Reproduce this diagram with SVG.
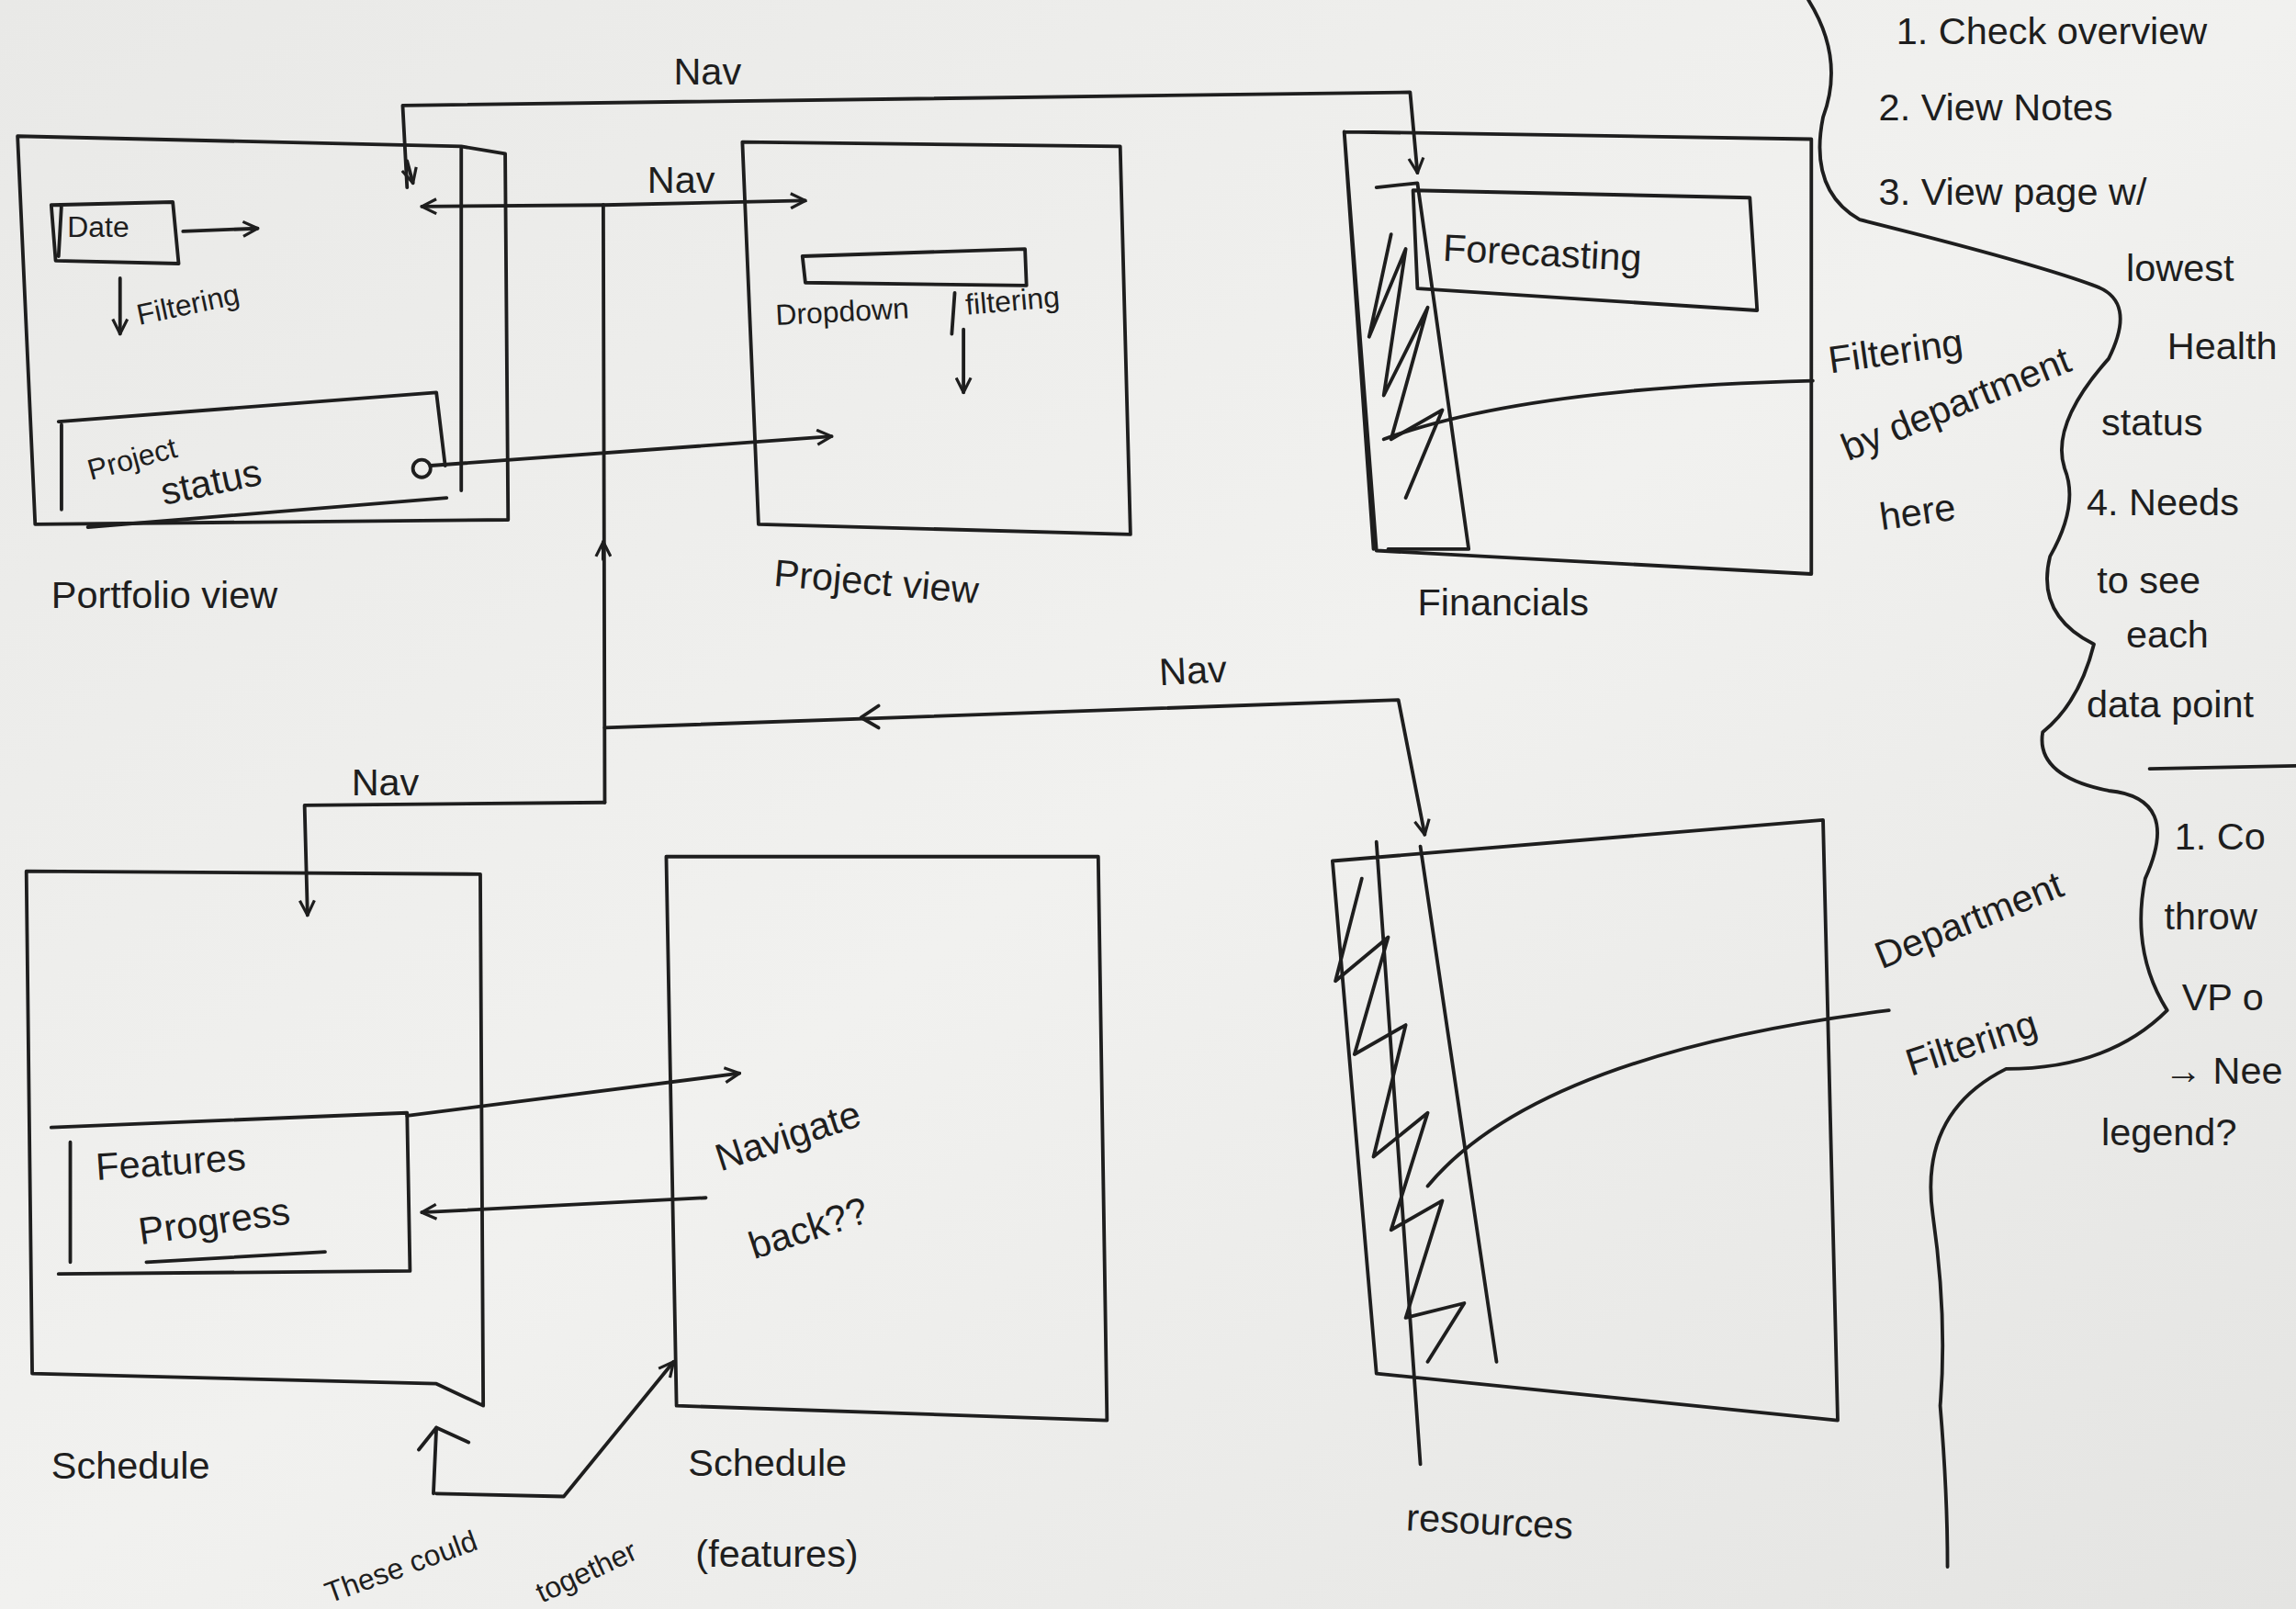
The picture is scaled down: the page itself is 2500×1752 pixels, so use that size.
<svg xmlns="http://www.w3.org/2000/svg" width="2500" height="1752" viewBox="0 0 2500 1752">
<defs>
<style>
.l{fill:none;stroke:#1e1e1e;stroke-width:2.4;stroke-linecap:round;stroke-linejoin:round}
.t{font-family:"Liberation Sans",sans-serif;fill:#1e1e1e;font-size:26px}
.s{font-size:20px}
</style>
<marker id="a" viewBox="0 0 12 12" refX="11" refY="6" markerWidth="12" markerHeight="12" markerUnits="userSpaceOnUse" orient="auto"><path d="M1,1 L11,6 L1,11" fill="none" stroke="#1e1e1e" stroke-width="2"/></marker>
<linearGradient id="bg" x1="0" y1="0" x2="1" y2="1"><stop offset="0" stop-color="#e9e9e7"/><stop offset="0.5" stop-color="#f1f1ef"/><stop offset="1" stop-color="#e4e4e2"/></linearGradient>
</defs>
<rect width="2500" height="1752" fill="url(#bg)"/>
<g transform="scale(1.5944)">
<g id="portfolio">
<path class="l" d="M12,93 L315,100 L345,105 L347,355 L24,358 Z M315,100 L315,335"/>
<path class="l" d="M35,140 L118,138 L122,180 L38,178 Z M42,140 L40,175"/>
<text class="t s" x="46" y="162">Date</text>
<path class="l" d="M125,158 L176,156" marker-end="url(#a)"/>
<path class="l" d="M82,190 L82,228" marker-end="url(#a)"/>
<text class="t s" x="95" y="222" transform="rotate(-12 95 222)">Filtering</text>
<path class="l" d="M40,288 L298,268 L304,318 M42,290 L42,348 M60,360 L305,340"/>
<text class="t s" x="62" y="328" transform="rotate(-15 62 328)">Project</text>
<text class="t" x="112" y="345" transform="rotate(-12 112 345)">status</text>
<circle cx="288" cy="320" r="6" class="l"/>
<path class="l" d="M294,318 L568,298" marker-end="url(#a)"/>
<text class="t" x="35" y="415">Portfolio  view</text>
</g>
<g id="project">
<path class="l" d="M507,97 L765,100 L772,365 L518,358 Z"/>
<path class="l" d="M548,175 L700,170 L701,195 L550,193 Z"/>
<text class="t s" x="530" y="222" transform="rotate(-3 530 222)">Dropdown</text>
<path class="l" d="M652,200 L650,228"/>
<text class="t s" x="660" y="215" transform="rotate(-5 660 215)">filtering</text>
<path class="l" d="M658,225 L658,268" marker-end="url(#a)"/>
<text class="t" x="528" y="400" transform="rotate(5 528 400)">Project view</text>
</g>
<g id="financials">
<path class="l" d="M918,90 L1237,95 L1237,392 L940,376 Z M918,90 L938,375"/>
<path class="l" d="M940,128 L968,125 L1003,375 L948,375 M950,160 L935,230 L960,170 L945,270 L975,210 L950,300 L985,280 L960,340"/>
<path class="l" d="M965,130 L1195,135 L1200,212 L968,197 Z"/>
<text class="t" x="985" y="178" transform="rotate(3 985 178)">Forecasting</text>
<path class="l" d="M945,300 Q1040,265 1238,260"/>
<text class="t" x="1250" y="255" transform="rotate(-8 1250 255)">Filtering</text>
<text class="t" x="1262" y="315" transform="rotate(-22 1262 315)">by department</text>
<text class="t" x="1285" y="362" transform="rotate(-8 1285 362)">here</text>
<text class="t" x="968" y="420">Financials</text>
</g>
<g id="schedule">
<path class="l" d="M18,595 L328,597 L330,960 L298,945 L22,938 Z"/>
<path class="l" d="M35,770 L278,760 L280,868 L40,870 M48,780 L48,862"/>
<text class="t" x="66" y="806" transform="rotate(-4 66 806)">Features</text>
<text class="t" x="96" y="850" transform="rotate(-8 96 850)">Progress</text>
<path class="l" d="M100,862 L222,855"/>
<text class="t" x="35" y="1010">Schedule</text>
</g>
<g id="schedulefeatures">
<path class="l" d="M455,585 L750,585 L756,970 L462,960 Z"/>
<text class="t" x="492" y="800" transform="rotate(-18 492 800)">Navigate</text>
<text class="t" x="515" y="860" transform="rotate(-18 515 860)">back??</text>
<text class="t" x="470" y="1008">Schedule</text>
<text class="t" x="475" y="1070">(features)</text>
<text class="t s" x="225" y="1095" transform="rotate(-20 225 1095)">These could</text>
<text class="t s" x="370" y="1095" transform="rotate(-25 370 1095)">together</text>
</g>
<g id="resources">
<path class="l" d="M910,588 L1245,560 L1255,970 L940,938 Z M940,575 L970,1000 M970,578 L1022,930"/>
<path class="l" d="M930,600 L912,670 L948,640 L925,720 L960,700 L938,790 L975,760 L950,840 L985,820 L960,900 L1000,890 L975,930"/>
<path class="l" d="M975,810 Q1050,720 1290,690"/>
<text class="t" x="1285" y="662" transform="rotate(-22 1285 662)">Department</text>
<text class="t" x="1305" y="735" transform="rotate(-18 1305 735)">Filtering</text>
<text class="t" x="960" y="1045" transform="rotate(3 960 1045)">resources</text>
</g>
<g id="connectors">
<path class="l" d="M278,128 L275,72 L963,63 L968,118" marker-end="url(#a)"/>
<path class="l" d="M278,110 L282,125" marker-end="url(#a)"/>
<text class="t" x="460" y="58">Nav</text>
<path class="l" d="M412,140 L550,137" marker-end="url(#a)"/>
<path class="l" d="M412,140 L288,141" marker-end="url(#a)"/>
<text class="t" x="442" y="132">Nav</text>
<path class="l" d="M412,140 L413,548 M412,382 L412,370" marker-end="url(#a)"/>
<path class="l" d="M413,497 L955,478 L973,570" marker-end="url(#a)"/>
<path class="l" d="M600,482 L588,490 L600,497"/>
<text class="t" x="792" y="468" transform="rotate(-3 792 468)">Nav</text>
<path class="l" d="M413,548 L208,550 L210,625" marker-end="url(#a)"/>
<text class="t" x="240" y="543">Nav</text>
<path class="l" d="M278,762 L505,733" marker-end="url(#a)"/>
<path class="l" d="M482,818 L288,828" marker-end="url(#a)"/>
<path class="l" d="M296,1020 L298,975 M298,1020 L385,1022 L460,930" marker-end="url(#a)"/>
<path class="l" d="M298,975 L286,990 M298,975 L320,985"/>
</g>
<g id="notes">
<path class="l" d="M1235,0 Q1260,40 1245,80 Q1235,130 1270,150 Q1390,180 1430,195 Q1460,205 1440,245 Q1400,290 1410,320 Q1420,345 1400,380 Q1390,420 1430,440 Q1420,480 1395,500 Q1390,530 1440,540 Q1490,545 1465,600 Q1455,650 1480,690 Q1440,730 1370,730 Q1310,760 1320,830 Q1330,900 1325,960 Q1330,1020 1330,1070"/>
<text class="t" x="1295" y="30">1. Check overview</text>
<text class="t" x="1283" y="82">2. View Notes</text>
<text class="t" x="1283" y="140">3. View page w/</text>
<text class="t" x="1452" y="192">lowest</text>
<text class="t" x="1480" y="245">Health</text>
<text class="t" x="1435" y="297">status</text>
<text class="t" x="1425" y="352">4. Needs</text>
<text class="t" x="1432" y="405">to see</text>
<text class="t" x="1452" y="442">each</text>
<text class="t" x="1425" y="490">data point</text>
<path class="l" d="M1468,525 L1568,523"/>
<text class="t" x="1485" y="580">1. Co</text>
<text class="t" x="1478" y="635">throw</text>
<text class="t" x="1490" y="690">VP o</text>
<text class="t" x="1478" y="740">→ Nee</text>
<text class="t" x="1435" y="782">legend?</text>
</g>
</g>
</svg>
